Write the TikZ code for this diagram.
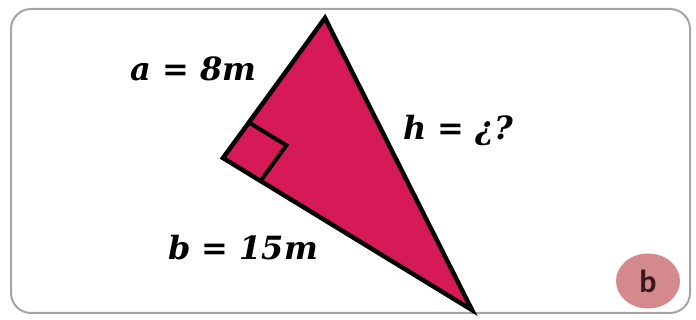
\documentclass[tikz,border=0pt]{standalone}
\usepackage{fontspec}
\setmainfont{DejaVu Serif}
\newfontfamily\labfont{Carlito}
\usetikzlibrary{calc,shapes.geometric}
\definecolor{tri}{RGB}{214,26,88}
\definecolor{badge}{RGB}{212,137,140}
\definecolor{frame}{RGB}{165,165,165}
\definecolor{badgetxt}{RGB}{55,25,30}
\tikzset{
  meas/.style={anchor=base west,inner sep=0pt,font=\fontsize{32}{32}\selectfont\bfseries\itshape},
}
\begin{document}
\begin{tikzpicture}[x=1pt,y=-1pt]
\useasboundingbox (0,0) rectangle (696,320);
\draw[frame,line width=2pt,rounded corners=20pt] (11,9) rectangle (690,313);
\coordinate (T) at (325,18);
\coordinate (V) at (223,158);
\coordinate (B) at (472,310);
\draw[fill=tri,line width=4.5pt,line join=miter] (T) -- (V) -- (B) -- cycle;
\coordinate (S1) at ($(V)!44pt!(T)$);
\coordinate (S2) at ($(V)!44pt!(B)$);
\draw[line width=4pt] (S1) -- ($(S1)+(S2)-(V)$) -- (S2);
\node[meas] (a) at (130,81) {a = 8m};
\node[meas] (h) at (403,140) {h = ¿?};
\node[meas] (b) at (168,260) {b = 15m};
\node[ellipse,fill=badge,minimum width=64pt,minimum height=55pt,inner sep=0pt] (badge) at (648,281) {};
\node[text=badgetxt,font=\labfont\fontsize{32}{32}\selectfont\bfseries] (bl) at (badge) {b};
\end{tikzpicture}
\end{document}
